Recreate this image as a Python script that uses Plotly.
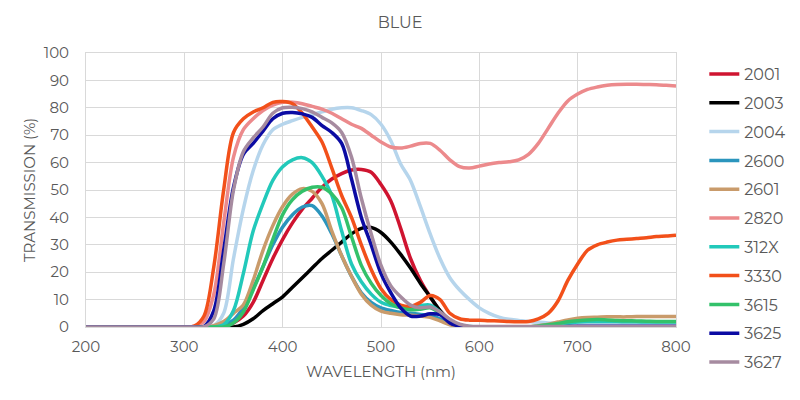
import plotly.graph_objects as go

WAVELENGTH = [200, 300, 310, 320, 330, 340, 350, 360, 370, 380, 390, 400, 410, 420, 430, 440,
              450, 460, 470, 480, 490, 500, 510, 520, 530, 540, 550, 560, 570, 580, 590, 600,
              610, 620, 630, 640, 650, 660, 670, 680, 690, 700, 710, 720, 730, 740, 750, 760,
              770, 780, 790, 800]

S_2001 = [0, 0, 0, 0, 0, 0, 1.5, 4, 9, 17, 25, 32, 38, 43, 47, 51,
          54, 56, 57.3, 57.5, 56.5, 52, 46, 36, 25, 17, 11, 6, 2.5, 0.5, 0, 0,
          0, 0, 0, 0, 0, 0, 0, 0, 0, 0, 0, 0, 0, 0, 0, 0,
          0, 0, 0, 0]
S_2003 = [0, 0, 0, 0, 0, 0, 0, 1, 3, 6, 8.5, 11, 14.5, 18, 21.5, 25,
          28, 31, 34, 36, 36.3, 34.5, 31, 26.5, 21.5, 16, 11, 6, 2.5, 0.8, 0, 0,
          0, 0, 0, 0, 0, 0, 0, 0, 0, 0, 0, 0, 0, 0, 0, 0,
          0, 0, 0, 0]
S_2004 = [0, 0, 0, 0, 0.5, 5, 25, 43, 57, 66.5, 72, 74, 75.3, 76.5, 77.5, 78.5,
          79.5, 80, 80, 79, 77.5, 74, 68, 59.5, 53.5, 44, 34, 25, 18, 13.5, 10, 7,
          5, 3.6, 2.8, 2.4, 2, 1.7, 1.5, 1.5, 1.5, 1.5, 1.5, 1.5, 1.5, 1.5, 1.5, 1.5,
          1.5, 1.5, 1.5, 1.5]
S_2600 = [0, 0, 0, 0, 0, 0.7, 2.5, 7, 14, 22, 30, 36.5, 41, 43.8, 44.3, 40.5,
          34, 26, 18.5, 12.5, 9, 7, 6, 5.3, 5, 4.6, 4.2, 3, 1.2, 0.4, 0, 0,
          0, 0, 0, 0, 0, 0, 0, 0, 0, 0, 0, 0, 0, 0, 0, 0,
          0, 0, 0, 0]
S_2601 = [0, 0, 0, 0, 0.5, 2, 5, 8, 17, 28, 37, 44, 48.5, 50.5, 49.5, 45,
          35, 26, 18.5, 12, 8, 5.8, 5, 4.5, 4.3, 4, 3.5, 2.2, 0.8, 0.2, 0, 0,
          0, 0, 0, 0, 0, 0.5, 1, 1.8, 2.6, 3.2, 3.5, 3.6, 3.7, 3.7, 3.7, 3.8,
          3.8, 3.8, 3.8, 3.8]
S_2820 = [0, 0, 0.3, 2, 12, 38, 62, 72, 76, 79, 81, 82, 82, 81.5, 80.5, 79.5,
          78, 76, 74, 72.5, 70, 67.5, 65.7, 65.3, 66, 67, 67, 64.5, 61, 58.5, 58, 58.7,
          59.5, 60, 60.3, 61, 63, 67, 72.5, 78, 82.5, 85, 86.7, 87.6, 88.2, 88.5, 88.6, 88.6,
          88.5, 88.4, 88.2, 88]
S_312X = [0, 0, 0, 0, 0, 0.8, 6, 19.5, 35, 45, 53.5, 58.5, 61, 61.8, 60, 55,
          48, 35, 23, 16.5, 12, 9, 7.8, 7.2, 7.3, 7.8, 8, 5.5, 2.5, 0.8, 0.2, 0,
          0, 0, 0, 0, 0, 0, 0.3, 0.8, 1.3, 1.8, 2, 2, 2, 2, 1.9, 1.9,
          1.8, 1.8, 1.8, 1.8]
S_3330 = [0, 0, 0.3, 4, 22, 50, 71, 76, 78.5, 80, 82, 82.3, 81.5, 78, 73, 67.5,
          58, 48, 40, 30, 21, 14, 10, 8, 7.5, 9, 11.5, 10, 5, 3, 2.5, 2.5,
          2.3, 2.2, 2, 1.9, 2, 3, 5, 9.5, 17, 23, 28, 30, 31, 31.7, 32, 32.3,
          32.6, 33, 33.2, 33.5]
S_3615 = [0, 0, 0, 0, 0, 0, 1.5, 5.5, 13.5, 22, 32, 41, 46.5, 49.5, 51, 51,
          48.5, 43.5, 33, 22.5, 16, 11.5, 8.5, 7, 6.3, 6.5, 7, 5, 1.8, 0.5, 0, 0,
          0, 0, 0, 0, 0, 0.4, 0.8, 1.3, 1.9, 2.3, 2.6, 2.7, 2.6, 2.4, 2.3, 2.2,
          2.1, 2, 2, 2]
S_3625 = [0, 0, 0, 0.2, 6, 28, 51, 63, 67, 71.5, 76, 78, 78.3, 77.8, 76.5, 73.5,
          71, 67, 54, 40, 30, 19.5, 12.5, 7, 4, 4, 4.8, 4.5, 1.5, 0.3, 0, 0,
          0, 0, 0, 0, 0, 0, 0, 0, 0.2, 0.3, 0.3, 0.3, 0.3, 0.3, 0.3, 0.3,
          0.3, 0.3, 0.3, 0.3]
S_3627 = [0, 0, 0, 0.1, 3, 23, 50, 64, 69, 73, 78, 80, 80.2, 79.7, 78.5, 76.5,
          74.5, 71, 62, 47, 34, 22.5, 15, 11, 8, 7, 7.3, 5.5, 2.8, 1, 0.3, 0.2,
          0.2, 0.2, 0.2, 0.2, 0.2, 0.2, 0.2, 0.2, 0.2, 0.2, 0.2, 0.2, 0.2, 0.2, 0.2, 0.2,
          0.2, 0.2, 0.2, 0.2]

SERIES_NAMES = ["2001", "2003", "2004", "2600", "2601", "2820", "312X", "3330", "3615", "3625", "3627"]
SERIES_VALUES = [S_2001, S_2003, S_2004, S_2600, S_2601, S_2820, S_312X, S_3330, S_3615, S_3625, S_3627]
COLORS = ["#cf1430", "#000000", "#b6d5ec", "#2b95bd", "#c99b6b", "#ec8a8c",
          "#22c9ba", "#f2501a", "#33c16a", "#0b0ba3", "#a68ba0"]

TEXT = "#595959"
GRID = "#d9d9d9"
FONT = "Montserrat, Open Sans, sans-serif"

fig = go.Figure()
for name, vals, col in zip(SERIES_NAMES, SERIES_VALUES, COLORS):
    fig.add_trace(go.Scatter(
        x=WAVELENGTH, y=vals, name=name, mode="lines",
        line=dict(color=col, width=3.5, shape="spline", smoothing=0.9),
        legendgroup=name,
    ))

fig.update_layout(
    width=792, height=384,
    paper_bgcolor="white", plot_bgcolor="white",
    font=dict(family=FONT, color=TEXT, size=15),
    margin=dict(l=78, r=124, t=45, b=65, autoexpand=False),
    title=dict(text="BLUE", x=0.495, xref="container", xanchor="center", y=0.9635, yanchor="middle",
               font=dict(size=16, color=TEXT, family=FONT)),
    showlegend=True,
    legend=dict(x=1.048, y=0.985, xanchor="left", yanchor="top",
                font=dict(size=16, color=TEXT, family=FONT), maxheight=380,
                tracegroupgap=5, bgcolor="rgba(0,0,0,0)"),
)
fig.update_xaxes(range=[200, 800], dtick=100, tick0=200, showgrid=True, gridcolor=GRID, gridwidth=1,
                 zeroline=False, showline=True, mirror=True, linecolor=GRID, linewidth=1,
                 ticks="", ticklabelstandoff=6, tickfont=dict(size=15, color=TEXT),
                 title=dict(text="WAVELENGTH (nm)", font=dict(size=15, color=TEXT), standoff=11))
fig.update_yaxes(range=[0, 100], dtick=10, showgrid=True, gridcolor=GRID, gridwidth=1,
                 zeroline=False, showline=True, mirror=True, linecolor=GRID, linewidth=1,
                 ticks="", ticklabelstandoff=13, tickfont=dict(size=15, color=TEXT),
                 title=dict(text="TRANSMISSION (%)", font=dict(size=15, color=TEXT), standoff=4))

fig.write_html("out.html")
